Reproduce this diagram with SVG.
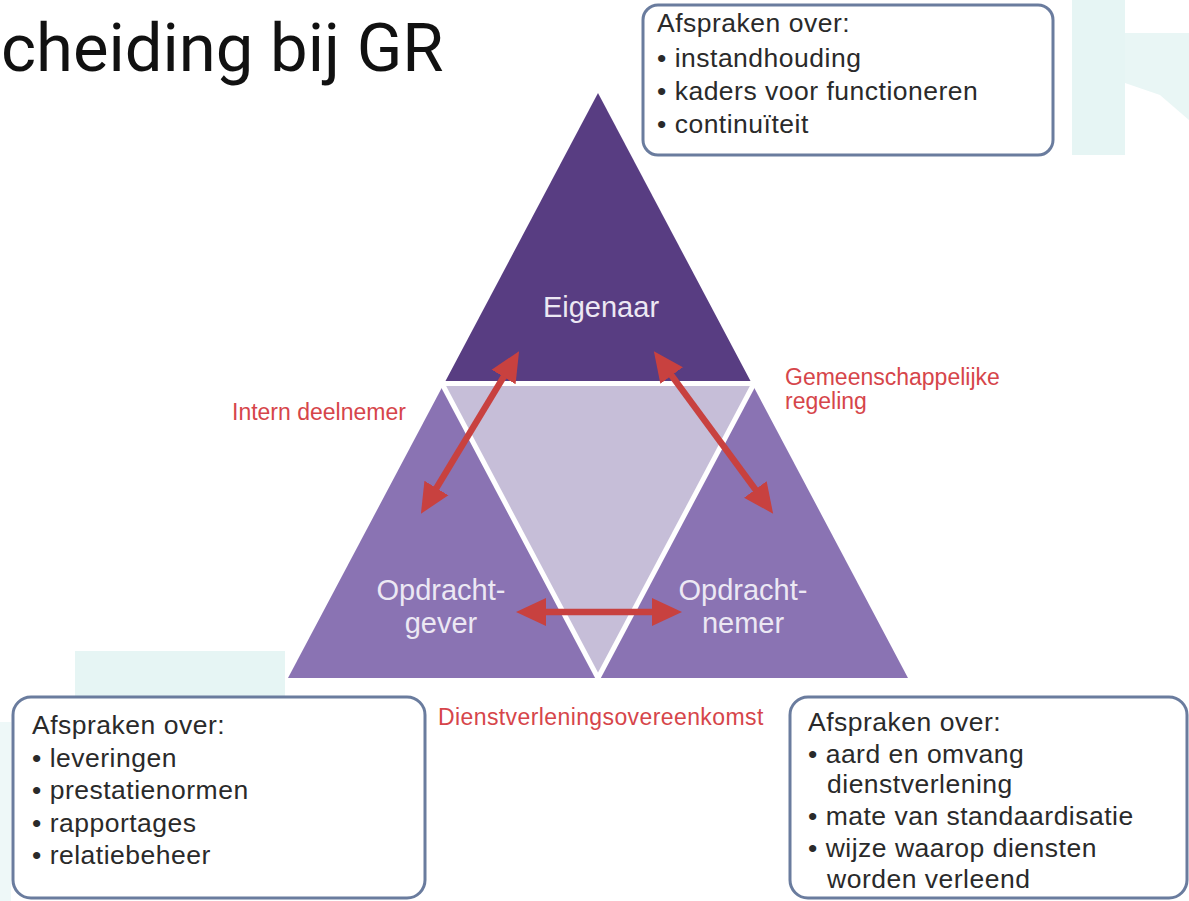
<svg xmlns="http://www.w3.org/2000/svg" width="1189" height="901" viewBox="0 0 1189 901">
  <style>
    .title { font-family: Roboto, "Liberation Sans", sans-serif; font-size: 67px; fill: #111; }
    .node { font-family: "Liberation Sans", Arial, sans-serif; font-size: 29px; fill: #ece8f3; text-anchor: middle; }
    .lbl { font-family: "Liberation Sans", Arial, sans-serif; font-size: 23px; fill: #d6454a; }
    .box { fill: #fff; stroke: #6a7c9e; stroke-width: 3; }
    .bt { font-family: "Liberation Sans", Arial, sans-serif; font-size: 26.5px; letter-spacing: 0.5px; fill: #2a2a2a; }
    .sep { stroke: #fff; stroke-width: 5; fill: none; }
    .arr { stroke: #c8413f; stroke-width: 6.5; fill: none; marker-start: url(#head); marker-end: url(#head); }
  </style>
  <defs>
    <marker id="head" markerUnits="userSpaceOnUse" markerWidth="32" markerHeight="30" refX="8" refY="14" orient="auto-start-reverse" viewBox="0 0 32 28">
      <path d="M0,0 L30,14 L0,28 z" fill="#c8413f"/>
    </marker>
  </defs>
  <rect width="1189" height="901" fill="#fff"/>
  <g id="background">
    <rect x="1072" y="0" width="53" height="155" fill="#e6f5f4"/>
    <polygon points="1125,33 1189,33 1189,120 1160,95 1125,83" fill="#e9f6f5"/>
    <rect x="75" y="651" width="210" height="47" fill="#e6f5f4"/>
    <rect x="0" y="722" width="11" height="179" fill="#eef8f8"/>
  </g>
  <text class="title" x="1" y="71">cheiding bij GR</text>
  <g id="labels">
    <text class="lbl" x="232" y="420">Intern deelnemer</text>
    <text class="lbl" x="785" y="385">Gemeenschappelijke</text>
    <text class="lbl" x="785" y="409">regeling</text>
    <text class="lbl" x="438" y="725" letter-spacing="0.4">Dienstverleningsovereenkomst</text>
  </g>
  <g id="middle">
    <polygon points="443,385.5 753,385.5 598,678" fill="#c6bed8"/>
  </g>
  <g id="eigenaar">
    <polygon points="598,93 445.5,381 750.5,381" fill="#583d82"/>
    <text class="node" x="601" y="317">Eigenaar</text>
  </g>
  <g id="opdrachtgever">
    <polygon points="443,385.5 288,678 598,678" fill="#8a73b3"/>
  </g>
  <g id="opdrachtnemer">
    <polygon points="753,385.5 598,678 908,678" fill="#8a73b3"/>
  </g>
  <g id="separators">
    <line class="sep" x1="430" y1="383.5" x2="766" y2="383.5"/>
    <line class="sep" x1="443" y1="385.5" x2="598" y2="678"/>
    <line class="sep" x1="753" y1="385.5" x2="598" y2="678"/>
  </g>
  <g id="node-texts">
    <text class="node" x="441" y="600">Opdracht-</text>
    <text class="node" x="441" y="633">gever</text>
    <text class="node" x="743" y="600">Opdracht-</text>
    <text class="node" x="743" y="633">nemer</text>
  </g>
  <g id="connectors">
    <line class="arr" x1="507.7" y1="370.1" x2="432.3" y2="494.9"/>
    <line class="arr" x1="666.9" y1="369.1" x2="760.1" y2="495.9"/>
    <line class="arr" x1="538" y1="612" x2="660" y2="612"/>
  </g>
  <g id="box-eigenaar">
    <rect class="box" x="643" y="5" width="410" height="150" rx="15"/>
    <text class="bt" x="657" y="32">Afspraken over:</text>
    <text class="bt" x="657" y="67">• instandhouding</text>
    <text class="bt" x="657" y="100">• kaders voor functioneren</text>
    <text class="bt" x="657" y="133">• continuïteit</text>
  </g>
  <g id="box-opdrachtgever">
    <rect class="box" x="13" y="697" width="412" height="201" rx="18"/>
    <text class="bt" x="32" y="734">Afspraken over:</text>
    <text class="bt" x="32" y="767">• leveringen</text>
    <text class="bt" x="32" y="799">• prestatienormen</text>
    <text class="bt" x="32" y="832">• rapportages</text>
    <text class="bt" x="32" y="864">• relatiebeheer</text>
  </g>
  <g id="box-opdrachtnemer">
    <rect class="box" x="790" y="697" width="397" height="201" rx="18"/>
    <text class="bt" x="808" y="731">Afspraken over:</text>
    <text class="bt" x="808" y="763">• aard en omvang</text>
    <text class="bt" x="827" y="793">dienstverlening</text>
    <text class="bt" x="808" y="825">• mate van standaardisatie</text>
    <text class="bt" x="808" y="857">• wijze waarop diensten</text>
    <text class="bt" x="827" y="888">worden verleend</text>
  </g>
</svg>
